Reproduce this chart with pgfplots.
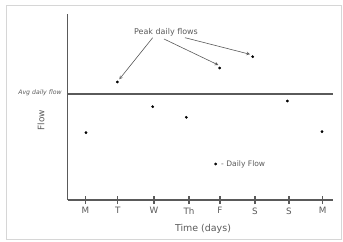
\documentclass[border=0pt]{standalone}
\usepackage{pgfplots}
\pgfplotsset{compat=1.18}
\usepackage{fontspec}
\setmainfont{DejaVu Sans}
\definecolor{axgray}{HTML}{5A5A5A}
\definecolor{framegray}{HTML}{D6D6D6}
\begin{document}
\begin{tikzpicture}
\begin{axis}[
  scale only axis, width=265.3bp, height=186bp,
  xmin=67.7, xmax=333, ymin=0, ymax=186,
  axis lines*=left,
  axis line style={axgray, line width=1.2bp},
  clip=false,
  ytick=\empty,
  xtick={85.3,117.7,154,189,220,255,289,322.7},
  xticklabels={M,T,W,Th,F,S,S,M},
  tick align=center,
  major tick length=8bp,
  xtick style={axgray, line width=1.2bp},
  xticklabel style={font=\fontsize{8.8}{10}\selectfont, text=axgray},
  /pgf/number format/assume math mode=true,
]
\path (axis cs:0,200) rectangle (axis cs:343,-42);
\draw[framegray, line width=0.8bp] (axis cs:6,195) rectangle (axis cs:341.5,-39);
\addplot[axgray, line width=1.2bp] coordinates {(67.7,106) (333,106)};
\addplot[only marks, mark=*, mark size=1.2bp, black] coordinates {
 (86,67.3) (117.3,118) (152.7,93.3) (186.3,82.7) (219.7,132) (252.7,143.3) (287.3,99) (322,68.3)};
\addplot[only marks, mark=*, mark size=1.2bp, black] coordinates {(215.7,36)};
\node[anchor=west, font=\fontsize{7.6}{8}\selectfont, text=axgray, inner sep=0pt] at (axis cs:221,36) {- Daily Flow};
\node[font=\fontsize{8}{9}\selectfont, text=axgray] at (axis cs:166,168) {Peak daily flows};
\draw[-stealth, axgray, line width=0.6bp] (axis cs:152.7,162.3) -- (axis cs:119.3,120.7);
\draw[-stealth, axgray, line width=0.6bp] (axis cs:164,161) -- (axis cs:218.3,135);
\draw[-stealth, axgray, line width=0.6bp] (axis cs:185,162.3) -- (axis cs:250,145.7);
\node[font=\itshape\fontsize{6.2}{7}\selectfont, text=axgray] at (axis cs:40,107.5) {Avg daily flow};
\node[rotate=90, font=\fontsize{9}{10}\selectfont, text=axgray] at (axis cs:41,80) {Flow};
\node[font=\fontsize{9.5}{11}\selectfont, text=axgray] at (axis cs:203,-29) {Time (days)};
\end{axis}
\end{tikzpicture}
\end{document}
